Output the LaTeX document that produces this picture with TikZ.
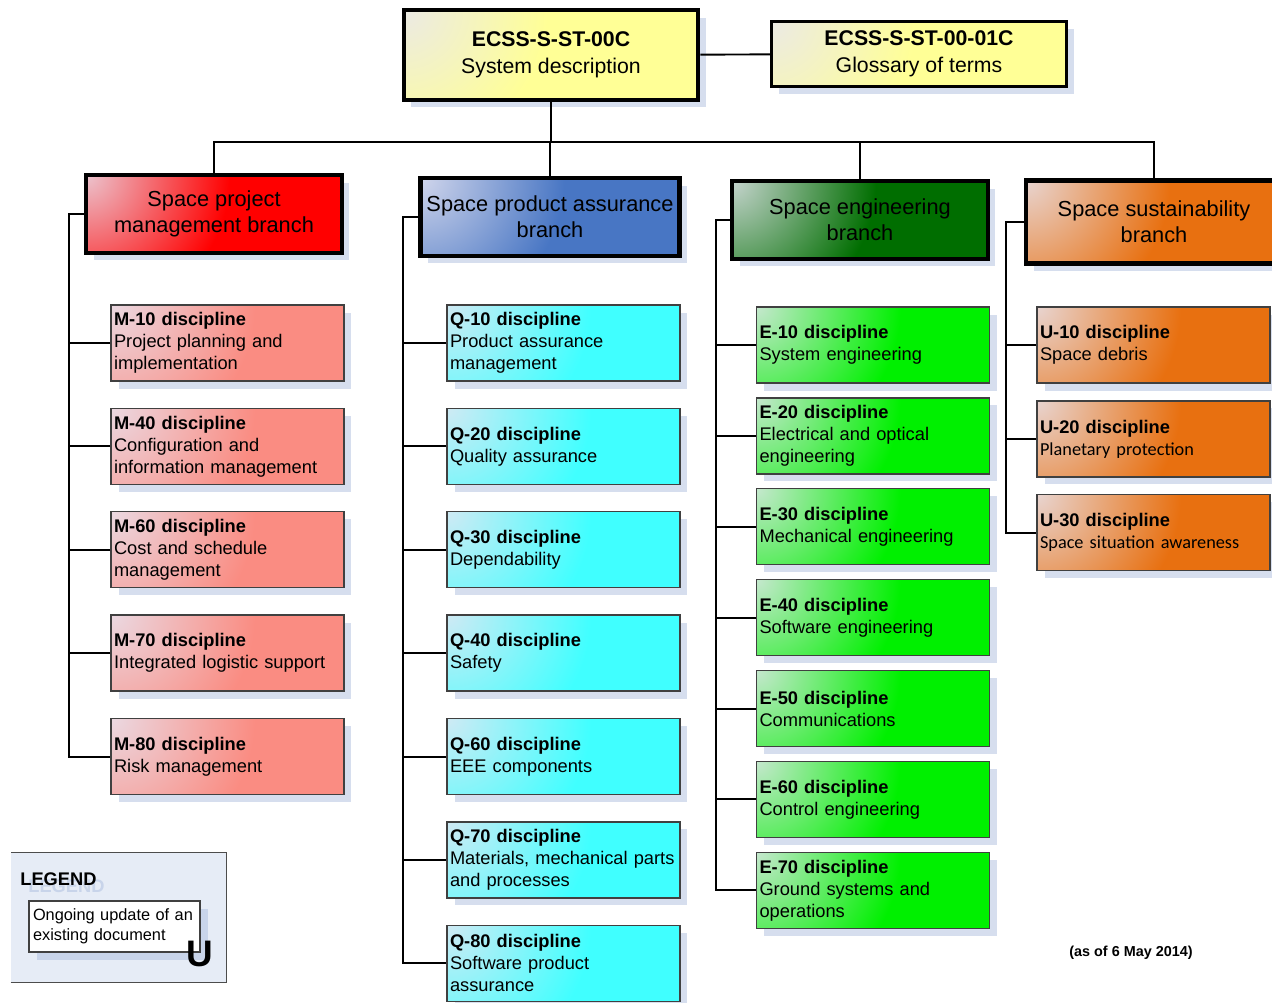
\documentclass[tikz,border=0pt]{standalone}
\usepackage{fontspec}
\setmainfont{Liberation Sans}
\newfontfamily\calibri{Carlito}
\usetikzlibrary{positioning}
\usetikzlibrary{shadows}

\definecolor{shadowblue}{RGB}{214,222,238}
\definecolor{paleend}{RGB}{232,230,242}
\definecolor{sysyellow}{RGB}{255,255,150}
\definecolor{mgmtred}{RGB}{255,0,0}
\definecolor{mred}{RGB}{250,140,130}
\definecolor{pablue}{RGB}{72,118,196}
\definecolor{qcyan}{RGB}{64,255,255}
\definecolor{engreen}{RGB}{0,110,0}
\definecolor{egreen}{RGB}{0,240,0}
\definecolor{sustorange}{RGB}{232,112,16}
\definecolor{legendfill}{RGB}{230,236,246}
\definecolor{legendshadow}{RGB}{200,212,234}
\colorlet{glowin}{paleend}
\colorlet{glowout}{mred}
\pgfdeclareradialshading[glowin,glowout]{cornerglow}{\pgfpointorigin}{color(0bp)=(glowin); color(12bp)=(glowout); color(50bp)=(glowout)}

\begin{document}
\begin{tikzpicture}[x=0.02cm, y=-0.02cm,
glow/.style={fill=#1, path picture={\colorlet{glowin}{paleend!85!#1}\colorlet{glowout}{#1}\shade[shading=cornerglow] (path picture bounding box.north west) circle (6cm);}},
boxshadow/.style={drop shadow={shadow xshift=0.15cm, shadow yshift=-0.15cm, fill=shadowblue, opacity=1}},
sysbox/.style={rectangle, draw=black, line width=2.3pt, glow=sysyellow, boxshadow, minimum width=5.9cm, align=center, font=\fontsize{12.1}{15.4}\selectfont},
branchbox/.style={rectangle, draw=black, line width=2.8pt, boxshadow, minimum width=5.12cm, minimum height=1.56cm, align=center, font=\fontsize{12.4}{14.8}\selectfont},
discbox/.style={rectangle, draw=black!75, line width=0.8pt, boxshadow, minimum height=1.52cm, text width=4.54cm, inner xsep=0.06cm, align=left, font=\fontsize{10.4}{12.5}\selectfont},
link/.style={draw=black, line width=1.1pt},
]
\useasboundingbox (0,0) rectangle (1272,1002);
\clip (0,0) rectangle (1272,1002);

%Nodes
\node[sysbox, minimum height=1.8cm]                (sys)   at (551,55)  {\textbf{ECSS-S-ST-00C}\\System description};
\node[sysbox, line width=1.8pt, minimum height=1.3cm] (gloss) at (919,54) {\textbf{ECSS-S-ST-00-01C}\\Glossary of terms};

\node[branchbox, glow=mgmtred]    (mgmt) at (214,214)  {Space project\\management branch};
\node[branchbox, glow=pablue]     (pa)   at (550,217)  {Space product assurance\\branch};
\node[branchbox, glow=engreen]    (eng)  at (860,220)  {Space engineering\\branch};
\node[branchbox, glow=sustorange, minimum height=1.66cm] (sust) at (1154,222) {Space sustainability\\branch};

% management
\node[discbox, glow=mred] (m10) at (227.5,343)     {\textbf{M-10 discipline}\\Project planning and\\implementation};
\node[discbox, glow=mred] (m40) [below=0.52cm of m10] {\textbf{M-40 discipline}\\Configuration and\\information management};
\node[discbox, glow=mred] (m60) [below=0.52cm of m40] {\textbf{M-60 discipline}\\Cost and schedule\\management};
\node[discbox, glow=mred] (m70) [below=0.52cm of m60] {\textbf{M-70 discipline}\\Integrated logistic support};
\node[discbox, glow=mred] (m80) [below=0.52cm of m70] {\textbf{M-80 discipline}\\Risk management};

% product assurance
\node[discbox, glow=qcyan] (q10) at (563.5,343)      {\textbf{Q-10 discipline}\\Product assurance\\management};
\node[discbox, glow=qcyan] (q20) [below=0.52cm of q10] {\textbf{Q-20 discipline}\\Quality assurance};
\node[discbox, glow=qcyan] (q30) [below=0.52cm of q20] {\textbf{Q-30 discipline}\\Dependability};
\node[discbox, glow=qcyan] (q40) [below=0.52cm of q30] {\textbf{Q-40 discipline}\\Safety};
\node[discbox, glow=qcyan] (q60) [below=0.52cm of q40] {\textbf{Q-60 discipline}\\EEE components};
\node[discbox, glow=qcyan] (q70) [below=0.52cm of q60] {\textbf{Q-70 discipline}\\Materials, mechanical parts\\and processes};
\node[discbox, glow=qcyan] (q80) [below=0.52cm of q70] {\textbf{Q-80 discipline}\\Software product\\assurance};

% engineering
\node[discbox, glow=egreen] (e10) at (873,345)       {\textbf{E-10 discipline}\\System engineering};
\node[discbox, glow=egreen] (e20) [below=0.27cm of e10] {\textbf{E-20 discipline}\\Electrical and optical\\engineering};
\node[discbox, glow=egreen] (e30) [below=0.27cm of e20] {\textbf{E-30 discipline}\\Mechanical engineering};
\node[discbox, glow=egreen] (e40) [below=0.27cm of e30] {\textbf{E-40 discipline}\\Software engineering};
\node[discbox, glow=egreen] (e50) [below=0.27cm of e40] {\textbf{E-50 discipline}\\Communications};
\node[discbox, glow=egreen] (e60) [below=0.27cm of e50] {\textbf{E-60 discipline}\\Control engineering};
\node[discbox, glow=egreen] (e70) [below=0.27cm of e60] {\textbf{E-70 discipline}\\Ground systems and\\operations};

% sustainability
\node[discbox, glow=sustorange] (u10) at (1153.5,345)    {\textbf{U-10 discipline}\\Space debris};
\node[discbox, glow=sustorange] (u20) [below=0.33cm of u10] {\textbf{U-20 discipline}\\{\calibri Planetary protection}};
\node[discbox, glow=sustorange] (u30) [below=0.33cm of u20] {\textbf{U-30 discipline}\\{\calibri Space situation awareness}};

% legend
\node[fill=legendfill, minimum width=4.3cm, minimum height=2.58cm] (legend) at (118.5,917.5) {};
\node[anchor=west, inner sep=0, text=legendshadow, font=\bfseries\fontsize{10.4}{12}\selectfont] (legendshade) at (28,886) {LEGEND};
\node[anchor=west, inner sep=0, font=\bfseries\fontsize{10.4}{12}\selectfont] (legendtitle) at (20,879) {LEGEND};
\node[rectangle, draw=black!75, line width=0.7pt, fill=white, drop shadow={shadow xshift=0.16cm, shadow yshift=-0.16cm, fill=legendshadow, opacity=1}, minimum height=1.02cm, text width=3.26cm, inner xsep=0.08cm, align=left, font=\fontsize{9.3}{11.4}\selectfont] (update) at (114.5,926.5) {Ongoing update of an\\existing document};
\node[anchor=base, inner sep=0, font=\bfseries\fontsize{21}{21}\selectfont] (ubadge) at (200,966) {U};
\node[font=\bfseries\fontsize{8.2}{10}\selectfont] (asof) at (1131,953) {(as of 6 May 2014)};

%Lines
\coordinate (bus) at (551,142);
\draw[link] (sys) -- (gloss);
\draw[link] (sys.south) -- (bus);
\draw[link] (mgmt.north) |- (bus) -| (sust.north);
\draw[link] (pa.north) -- (pa.north |- bus);
\draw[link] (eng.north) -- (eng.north |- bus);

\draw[link] (mgmt.west) -- ++(-15,0) coordinate (mtrunk) |- (m80.west);
\foreach \d in {m10,m40,m60,m70} \draw[link] (\d.west) -- (\d.west -| mtrunk);
\draw[link] (pa.west) -- ++(-15,0) coordinate (qtrunk) |- (q80.west);
\foreach \d in {q10,q20,q30,q40,q60,q70} \draw[link] (\d.west) -- (\d.west -| qtrunk);
\draw[link] (eng.west) -- ++(-14,0) coordinate (etrunk) |- (e70.west);
\foreach \d in {e10,e20,e30,e40,e50,e60} \draw[link] (\d.west) -- (\d.west -| etrunk);
\draw[link] (sust.west) -- ++(-18,0) coordinate (utrunk) |- (u30.west);
\foreach \d in {u10,u20} \draw[link] (\d.west) -- (\d.west -| utrunk);

\draw[black!70, line width=0.6pt] (legend.south west) -| (legend.north east) -- (legend.north west);
\end{tikzpicture}
\end{document}
